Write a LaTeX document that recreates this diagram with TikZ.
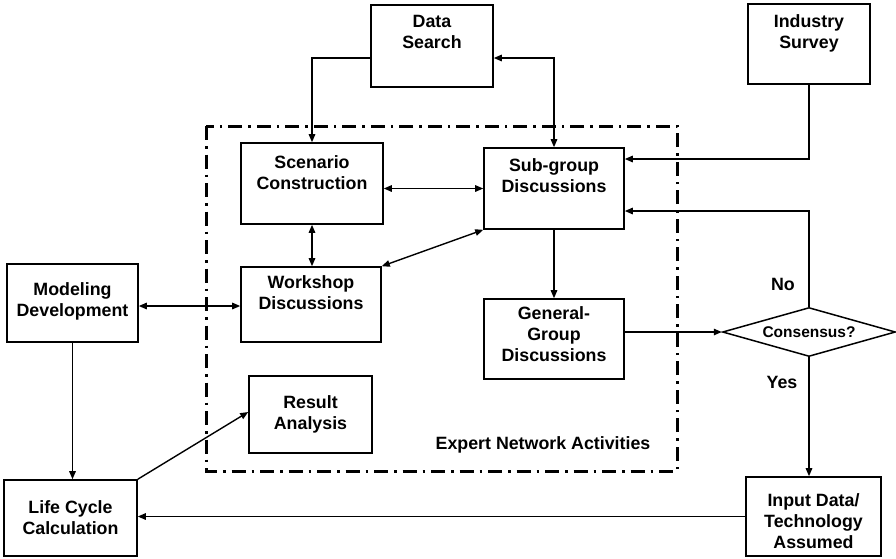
\documentclass[tikz,border=0pt]{standalone}
\usepackage{fontspec}
\setmainfont{Liberation Sans}
\usetikzlibrary{arrows.meta,shapes.geometric,calc}
\begin{document}
\begin{tikzpicture}[x=1pt,y=-1pt,
  box/.style={draw, line width=1.6pt, inner sep=0pt, rectangle},
  txt/.style={inner sep=0pt, align=center, anchor=north, font=\bfseries\fontsize{17.8}{21}\selectfont},
  lbl/.style={inner sep=0pt, anchor=base, font=\bfseries\fontsize{17.8}{21}\selectfont},
  conn/.style={line width=1.4pt, arrows={-Triangle[length=8pt,width=6.5pt]}},
  conn2/.style={line width=1.4pt, arrows={Triangle[length=8pt,width=6.5pt]-Triangle[length=8pt,width=6.5pt]}},
  region/.style={line width=3pt, dash pattern=on 14pt off 6pt on 2.5pt off 6pt}
]
\useasboundingbox (0,0) rectangle (896,558);
% dash-dot region
\draw[region] (206,126) rectangle (677,471);
% boxes
\node[box, minimum width=122, minimum height=82] (ds) at (432,46) {};
\node[box, minimum width=122, minimum height=80] (ind) at (809,44) {};
\node[box, minimum width=142, minimum height=81] (scen) at (312,183.5) {};
\node[box, minimum width=140, minimum height=81] (sg) at (554,188.5) {};
\node[box, minimum width=131, minimum height=78] (md) at (72.5,303) {};
\node[box, minimum width=140, minimum height=75] (ws) at (311,304.5) {};
\node[box, minimum width=140, minimum height=80] (gg) at (554,339) {};
\node[box, minimum width=123, minimum height=77] (res) at (310.5,414.5) {};
\node[box, minimum width=133, minimum height=76] (lc) at (70.5,518) {};
\node[box, minimum width=135, minimum height=79] (inp) at (813.5,516.5) {};
\node[draw, line width=1.5pt, diamond, aspect=3.5, minimum width=173, minimum height=49, inner sep=0pt,
      font=\bfseries\fontsize{15.5}{18}\selectfont] (cons) at (809,332) {Consensus?};
% texts
\node[txt] (dst) at (432,15.5) {Data\\Search};
\node[txt] (indt) at (809,14.5) {Industry\\Survey};
\node[txt] (scent) at (312,155.5) {Scenario\\Construction};
\node[txt] (sgt) at (554,158.5) {Sub-group\\Discussions};
\node[txt] (mdt) at (72.5,282.5) {Modeling\\Development};
\node[txt] (wst) at (311,275.5) {Workshop\\Discussions};
\node[txt] (ggt) at (554,306.5) {General-\\Group\\Discussions};
\node[txt] (rest) at (310.5,395.5) {Result\\Analysis};
\node[txt] (lct) at (70.5,500.5) {Life Cycle\\Calculation};
\node[txt] (inpt) at (813.5,493.5) {Input Data/\\Technology\\Assumed};
\node[lbl] (ena) at (543,449) {Expert Network Activities};
\node[lbl] (no) at (783,290) {No};
\node[lbl] (yes) at (782,388) {Yes};
% connectors
\draw[conn] ([yshift=-12]ds.west) -| (scen.north);
\draw[conn2] (sg.north) |- ([yshift=-12]ds.east);
\draw[conn2] (sg.west -| scen.east) -- (sg.west);
\draw[conn2] (scen.south) -- (scen.south |- ws.north);
\draw[conn2] (sg.south west) -- (ws.north east);
\draw[conn] (sg.south) -- (gg.north);
\draw[conn2] ([yshift=-3]md.east) -- ([yshift=-3]md.east -| ws.west);
\draw[conn] (md.south) -- (md.south |- lc.north);
\draw[conn] (lc.north east) -- ([yshift=2.5]res.west);
\draw[conn] (ind.south) |- ([yshift=29.5]sg.east);
\draw[conn] (cons.north) |- ([yshift=-22.5]sg.east);
\draw[conn] ([yshift=7]gg.east) -- (cons.west);
\draw[conn] (cons.south) -- (cons.south |- inp.north);
\draw[conn] (inp.west) -- (inp.west -| lc.east);
\end{tikzpicture}
\end{document}
